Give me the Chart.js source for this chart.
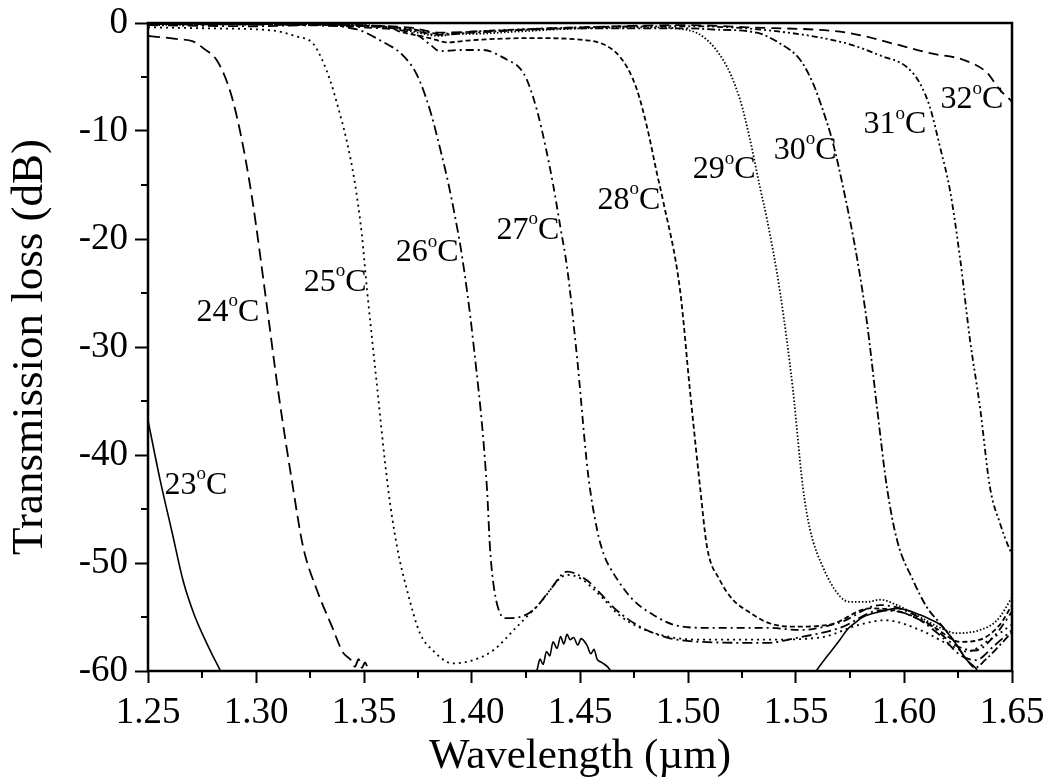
<!DOCTYPE html>
<html>
<head>
<meta charset="utf-8">
<script src="https://cdn.jsdelivr.net/npm/chart.js@4.4.1/dist/chart.umd.min.js"></script>
<style>
  html, body { margin: 0; padding: 0; background: #fff; }
  #wrap { width: 1050px; height: 784px; }
</style>
</head>
<body>
<div id="wrap"><canvas id="grafico" width="1050" height="784"></canvas></div>
<script>
// Curve di trasmissione: [lunghezza d'onda (um), perdita (dB)]
const s23 = [
  [1.25, -36.8], [1.2556, -42.3], [1.2612, -47.2], [1.2662, -51.6], [1.2714, -54.8], [1.2764, -57.1],
  [1.28, -58.6], [1.2838, -60.1], [1.29, -63],
  [1.42, -63], [1.4301, -59.9], [1.4315, -58.9], [1.4329, -59.4], [1.4345, -58.2], [1.436, -58.6],
  [1.4375, -57.3], [1.4394, -57.9], [1.441, -56.8], [1.4425, -57.5], [1.444, -56.6], [1.4454, -57.1],
  [1.447, -56.9], [1.449, -57.6], [1.4505, -57.0], [1.4532, -57.6], [1.455, -58.4], [1.4565, -58.0],
  [1.4579, -58.9], [1.46, -59.2], [1.4639, -59.9], [1.47, -63],
  [1.55, -63], [1.5597, -59.9], [1.563, -59.0], [1.5657, -58.3], [1.57, -57.2], [1.5736, -56.2],
  [1.577, -55.6], [1.581, -55.0], [1.5889, -54.5], [1.5968, -54.2], [1.602, -54.4], [1.6074, -54.8],
  [1.612, -55.2], [1.6167, -55.7], [1.6227, -57.1], [1.6292, -59.0], [1.6338, -59.9], [1.64, -63]
];
const s24 = [
  [1.25, -1.2], [1.2556, -1.3], [1.264, -1.5], [1.2708, -1.7], [1.276, -2.4], [1.282, -3.5], [1.288, -6.3],
  [1.2926, -10.0], [1.2981, -16.1], [1.3051, -26.3], [1.3102, -34.0], [1.3171, -43.0], [1.3218, -48.5],
  [1.3282, -52.5], [1.3352, -55.9], [1.3403, -58.3], [1.344, -59.0], [1.3458, -59.6], [1.3475, -58.9],
  [1.349, -59.7], [1.3505, -59.2], [1.352, -59.9], [1.3542, -60.2], [1.36, -63]
];
const s25 = [
  [1.25, -0.4], [1.28, -0.5], [1.3079, -0.7], [1.318, -1.2], [1.3264, -1.9], [1.3306, -3.4], [1.3343, -5.3],
  [1.338, -7.8], [1.3421, -11.0], [1.3456, -14.6], [1.3490, -19.6], [1.3514, -24.7], [1.3556, -32.8],
  [1.3611, -43.0], [1.3653, -48.5], [1.3699, -52.5], [1.3759, -56.5], [1.3819, -58.1], [1.3912, -59.3],
  [1.4005, -59.0], [1.4097, -58.1], [1.4208, -55.9], [1.4315, -53.7], [1.444, -51.1], [1.45, -51.4],
  [1.4593, -53.0], [1.468, -54.8], [1.4778, -56.0], [1.4931, -56.9], [1.5056, -57.1], [1.5366, -57.1],
  [1.5611, -56.9], [1.5796, -55.7], [1.5912, -55.3], [1.6074, -56.2], [1.6213, -57.6], [1.6292, -58.2],
  [1.6398, -57.1], [1.65, -55.7]
];
const s26 = [
  [1.25, -0.2], [1.30, -0.3], [1.3236, -0.2], [1.3468, -0.6], [1.3574, -1.6], [1.368, -3.0], [1.3745, -4.8],
  [1.3806, -8.1], [1.3852, -11.6], [1.3890, -14.8], [1.3925, -18.3], [1.3954, -21.6], [1.4005, -29.4],
  [1.4069, -43.0], [1.4083, -48.5], [1.4097, -51.6], [1.412, -54.1], [1.4153, -55.1], [1.4176, -55.1],
  [1.4282, -54.4], [1.4361, -52.5], [1.444, -50.8], [1.4532, -51.6], [1.4593, -52.8], [1.4671, -54.4],
  [1.4778, -55.9], [1.4903, -56.9], [1.5056, -57.3], [1.5366, -57.4], [1.5486, -57.0], [1.5704, -56.0],
  [1.5889, -54.4], [1.6028, -54.8], [1.6167, -56.7], [1.6259, -58.5], [1.6329, -59.0], [1.6421, -57.6],
  [1.65, -56.2]
];
const s27 = [
  [1.25, -0.1], [1.32, -0.2], [1.35, -0.4], [1.3745, -1.1], [1.3806, -2.0], [1.385, -2.6], [1.395, -2.5],
  [1.4051, -2.5], [1.4162, -3.4], [1.4222, -4.2], [1.4255, -5.3], [1.4301, -8.1], [1.4340, -11.4],
  [1.4375, -14.9], [1.4410, -19.0], [1.444, -22.6], [1.4486, -30.9], [1.4537, -41.7], [1.4579, -46.9],
  [1.461, -49.2], [1.4653, -50.9], [1.4745, -53.4], [1.4856, -55.0], [1.4931, -55.7], [1.5056, -56.0],
  [1.5366, -56.0], [1.5519, -56.2], [1.5704, -55.5], [1.5889, -53.9], [1.5981, -54.2], [1.612, -55.7],
  [1.6236, -57.6], [1.6329, -58.1], [1.6421, -56.7], [1.65, -54.5]
];
const s28 = [
  [1.25, -0.1], [1.36, -0.3], [1.3667, -0.8], [1.3806, -1.4], [1.3884, -1.8], [1.3991, -1.6], [1.4269, -1.4],
  [1.4532, -1.6], [1.4653, -2.5], [1.4718, -4.1], [1.4764, -6.2], [1.481, -9.6], [1.4856, -13.9],
  [1.4884, -16.4], [1.4963, -24.7], [1.5009, -34.0], [1.5056, -43.0], [1.5088, -48.5], [1.5148, -51.6],
  [1.5208, -53.4], [1.5287, -54.6], [1.5366, -55.5], [1.5486, -55.9], [1.5657, -55.7], [1.5843, -54.2],
  [1.5981, -54.5], [1.6144, -56.0], [1.6259, -57.3], [1.6352, -57.1], [1.6444, -55.7], [1.65, -53.9]
];
const s29 = [
  [1.25, -0.2], [1.30, -0.1], [1.35, -0.2], [1.37, -0.7], [1.385, -1.2], [1.392, -1.0], [1.40, -1.0],
  [1.42, -0.8], [1.45, -0.5], [1.481, -0.4], [1.5009, -0.7], [1.5162, -3.4], [1.5241, -7.1], [1.5287, -10.8],
  [1.5333, -15.2], [1.5366, -18.2], [1.5426, -24.9], [1.5486, -34.0], [1.5532, -43.0], [1.5565, -46.9],
  [1.5625, -50.4], [1.5704, -53.1], [1.575, -53.6], [1.5829, -53.6], [1.5889, -53.4], [1.5968, -53.9],
  [1.6074, -55.0], [1.6167, -56.0], [1.6245, -56.5], [1.6352, -56.2], [1.6431, -55.3], [1.65, -53.2]
];
const s30 = [
  [1.25, -0.1], [1.30, -0.1], [1.37, -0.6], [1.385, -1.1], [1.40, -0.9], [1.45, -0.5], [1.50, -0.5],
  [1.5116, -0.6], [1.5319, -0.9], [1.5426, -1.9], [1.5519, -3.4], [1.5579, -5.6], [1.5625, -8.1],
  [1.5671, -11.1], [1.5718, -15.2], [1.5782, -21.7], [1.5829, -27.8], [1.5875, -35.6], [1.5921, -43.0],
  [1.5968, -47.9], [1.6042, -51.6], [1.6106, -54.1], [1.6167, -55.6], [1.6227, -57.1], [1.6292, -59.0],
  [1.6329, -59.7], [1.6375, -59.0], [1.6444, -57.6], [1.65, -56.4]
];
const s31 = [
  [1.25, -0.1], [1.30, -0.1], [1.37, -0.5], [1.385, -1.0], [1.40, -0.8], [1.45, -0.4], [1.50, -0.3],
  [1.5426, -0.8], [1.5736, -1.9], [1.5889, -3.0], [1.6014, -4.1], [1.6074, -5.6], [1.612, -7.8],
  [1.6167, -11.5], [1.6213, -15.5], [1.6259, -21.7], [1.6306, -29.4], [1.6352, -35.6], [1.6398, -43.0],
  [1.6444, -46.3], [1.6491, -48.8], [1.65, -49.1]
];
const s32 = [
  [1.25, -0.1], [1.30, -0.1], [1.37, -0.4], [1.385, -0.9], [1.40, -0.8], [1.45, -0.4], [1.50, -0.2],
  [1.5273, -0.4], [1.5736, -0.9], [1.5968, -2.0], [1.612, -2.8], [1.6273, -3.4], [1.6384, -4.6],
  [1.6444, -6.2], [1.6491, -7.1], [1.65, -7.3]
];

const serie = [s23, s24, s25, s26, s27, s28, s29, s30, s31, s32];
const temperature = ['23', '24', '25', '26', '27', '28', '29', '30', '31', '32'];
const tratteggi = [[], [12, 6], [2, 4], [10, 4, 2, 4], [8, 4, 2, 4], [5, 3], [1.5, 2], [8, 3, 2, 3], [6, 3, 2, 3, 2, 3], [10, 6]];

// posizione delle etichette (centro, coordinate dati)
const etichettaX = [1.2722, 1.287, 1.3366, 1.3792, 1.4259, 1.4727, 1.5167, 1.5542, 1.5958, 1.6315];
const etichettaY = [-42.8, -26.8, -24.0, -21.3, -19.2, -16.4, -13.6, -11.8, -9.4, -7.1];

const xTicksMinori = [1.275, 1.325, 1.375, 1.425, 1.475, 1.525, 1.575, 1.625];
const yTicksMinori = [-5, -15, -25, -35, -45, -55];

const FONT = "'Liberation Serif', 'Times New Roman', serif";

const datasets = serie.map((s, i) => ({
  label: temperature[i] + '°C',
  data: s.map(p => ({ x: p[0], y: p[1] })),
  borderColor: '#000',
  borderWidth: i === 0 ? 1.6 : 1.8,
  borderDash: tratteggi[i],
  borderCapStyle: 'butt',
  pointRadius: 0,
  cubicInterpolationMode: 'monotone',
  fill: false
}));

// Etichette, tick minori e cornice
const decorazioni = {
  id: 'decorazioni',
  afterDatasetsDraw(chart) {
    const { ctx, chartArea: a, scales: { x, y } } = chart;
    ctx.save();
    ctx.fillStyle = '#000';
    ctx.textBaseline = 'middle';
    etichettaX.forEach((vx, i) => {
      const px = x.getPixelForValue(vx);
      const py = y.getPixelForValue(etichettaY[i]);
      ctx.font = '32px ' + FONT;
      const wNum = ctx.measureText(temperature[i]).width;
      const wC = ctx.measureText('C').width;
      ctx.font = '19px ' + FONT;
      const wO = ctx.measureText('o').width;
      let sx = px - (wNum + wO + wC) / 2;
      ctx.font = '32px ' + FONT;
      ctx.textAlign = 'left';
      ctx.fillText(temperature[i], sx, py);
      ctx.font = '19px ' + FONT;
      ctx.fillText('o', sx + wNum, py - 11);
      ctx.font = '32px ' + FONT;
      ctx.fillText('C', sx + wNum + wO, py);
    });

    ctx.strokeStyle = '#000';
    ctx.lineWidth = 2;
    xTicksMinori.forEach(v => {
      const px = x.getPixelForValue(v);
      ctx.beginPath();
      ctx.moveTo(px, a.bottom);
      ctx.lineTo(px, a.bottom + 7);
      ctx.stroke();
    });
    yTicksMinori.forEach(v => {
      const py = y.getPixelForValue(v);
      ctx.beginPath();
      ctx.moveTo(a.left, py);
      ctx.lineTo(a.left - 7, py);
      ctx.stroke();
    });

    ctx.lineWidth = 2.5;
    ctx.strokeRect(a.left, a.top, a.right - a.left, a.bottom - a.top);
    ctx.restore();
  }
};

new Chart(document.getElementById('grafico').getContext('2d'), {
  type: 'line',
  data: { datasets },
  plugins: [decorazioni],
  options: {
    responsive: false,
    animation: false,
    layout: { padding: { left: 0, right: 38, top: 23, bottom: 0 } },
    plugins: { legend: { display: false }, tooltip: { enabled: false } },
    scales: {
      x: {
        type: 'linear',
        min: 1.25,
        max: 1.65,
        afterFit(scale) {
          scale.height = 113;
          scale.paddingLeft = 0;
          scale.paddingRight = 0;
        },
        ticks: {
          stepSize: 0.05,
          color: '#000',
          padding: 8,
          maxRotation: 0,
          font: { family: FONT, size: 37 },
          callback: v => v.toFixed(2)
        },
        grid: { drawOnChartArea: false, drawTicks: true, tickLength: 12, tickWidth: 2, tickColor: '#000', color: '#000' },
        border: { display: false },
        title: { display: true, text: 'Wavelength (\u00b5m)', color: '#000', font: { family: FONT, size: 43 }, padding: { top: 0, bottom: 1 } }
      },
      y: {
        type: 'linear',
        min: -60,
        max: 0,
        afterFit(scale) {
          scale.width = 148;
          scale.paddingTop = 0;
          scale.paddingBottom = 0;
        },
        ticks: {
          stepSize: 10,
          color: '#000',
          padding: 7,
          font: { family: FONT, size: 37 }
        },
        grid: { drawOnChartArea: false, drawTicks: true, tickLength: 13, tickWidth: 2, tickColor: '#000', color: '#000' },
        border: { display: false },
        title: { display: true, text: 'Transmission loss (dB)', color: '#000', font: { family: FONT, size: 45 }, padding: { top: 3, bottom: 0 } }
      }
    }
  }
});
</script>
</body>
</html>
